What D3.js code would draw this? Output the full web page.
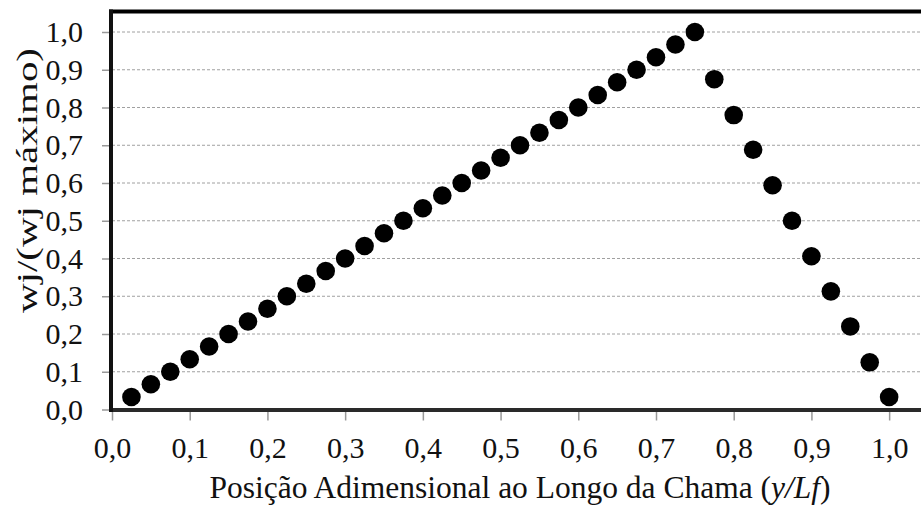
<!DOCTYPE html>
<html><head><meta charset="utf-8">
<script src="https://cdn.jsdelivr.net/npm/d3@7"></script>
<style>body{margin:0;background:#fff;} svg{display:block;}</style>
</head><body><svg id="c" width="921" height="507"></svg>
<script>
const xValues = [0.025,0.05,0.075,0.1,0.125,0.15,0.175,0.2,0.225,0.25,0.275,0.3,0.325,0.35,0.375,0.4,0.425,0.45,0.475,0.5,0.525,0.55,0.575,0.6,0.625,0.65,0.675,0.7,0.725,0.75,0.775,0.8,0.825,0.85,0.875,0.9,0.925,0.95,0.975,1.0];
const yValues = [0.033,0.067,0.1,0.133,0.167,0.2,0.233,0.267,0.3,0.333,0.367,0.4,0.433,0.467,0.5,0.533,0.567,0.6,0.633,0.667,0.7,0.733,0.767,0.8,0.833,0.867,0.9,0.933,0.967,1.0,0.875,0.78,0.688,0.594,0.5,0.406,0.313,0.22,0.125,0.033];
const xTicks = [0,0.1,0.2,0.3,0.4,0.5,0.6,0.7,0.8,0.9,1.0];
const yTicks = [0,0.1,0.2,0.3,0.4,0.5,0.6,0.7,0.8,0.9,1.0];
const xTitle = "Posição Adimensional ao Longo da Chama (";
const xTitleItalic = "y/Lf";
const yTitle = "wj/(wj máximo)";

const FONT = "Liberation Serif";
const svg = d3.select("#c");
const x = d3.scaleLinear().domain([0, 1.05]).range([112, 928]);
const y = d3.scaleLinear().domain([0, 1]).range([409.5, 32]);
const fmt = d => d3.format(".1f")(d).replace(".", ",");

// gridlines
svg.append("g").selectAll("line").data(yTicks.slice(1)).join("line")
  .attr("x1", x(0)).attr("x2", 921).attr("y1", d => y(d)).attr("y2", d => y(d))
  .attr("stroke", "#a0a0a0").attr("stroke-width", 1).attr("stroke-dasharray", "3,2");

// axes
const xAxis = svg.append("g").attr("transform", `translate(0,${y(0)})`)
  .call(d3.axisBottom(x).tickValues(xTicks).tickFormat(fmt).tickSize(11).tickPadding(16));
xAxis.select(".domain").remove();
xAxis.selectAll(".tick line").attr("stroke", "#999").attr("stroke-width", 1.5);
xAxis.selectAll(".tick text").style("font-family", FONT).style("font-size", "30px").attr("fill", "#111");

const yAxis = svg.append("g").attr("transform", `translate(${x(0)},0)`)
  .call(d3.axisLeft(y).tickValues(yTicks).tickFormat(fmt).tickSize(10).tickPadding(19));
yAxis.select(".domain").remove();
yAxis.selectAll(".tick line").attr("stroke", "#999").attr("stroke-width", 1.5);
yAxis.selectAll(".tick text").style("font-family", FONT).style("font-size", "30px").attr("fill", "#111");

// frame lines
svg.append("line").attr("x1", x(0) - 2).attr("x2", 921).attr("y1", 410).attr("y2", 410)
  .attr("stroke", "#2a2a2a").attr("stroke-width", 4);
svg.append("line").attr("x1", x(0) - 3).attr("x2", 921).attr("y1", 11.5).attr("y2", 11.5)
  .attr("stroke", "#000").attr("stroke-width", 4);
svg.append("line").attr("x1", 111).attr("x2", 111).attr("y1", 9.5).attr("y2", 412)
  .attr("stroke", "#111").attr("stroke-width", 4);

// points
svg.append("g").selectAll("circle").data(xValues.map((v, i) => [v, yValues[i]])).join("circle")
  .attr("cx", d => x(d[0])).attr("cy", d => y(d[1])).attr("r", 9.3).attr("fill", "#000");

// titles
const t = svg.append("text").attr("x", 520).attr("y", 498).attr("text-anchor", "middle")
  .style("font-family", FONT).style("font-size", "31.5px").attr("fill", "#111");
t.append("tspan").text(xTitle);
t.append("tspan").style("font-style", "italic").text(xTitleItalic);
t.append("tspan").text(")");

svg.append("text").attr("transform", "translate(37,180.5) rotate(-90)").attr("text-anchor", "middle")
  .attr("textLength", 265).attr("lengthAdjust", "spacingAndGlyphs")
  .style("font-family", FONT).style("font-size", "30px").attr("fill", "#111").text(yTitle);
</script></body></html>
